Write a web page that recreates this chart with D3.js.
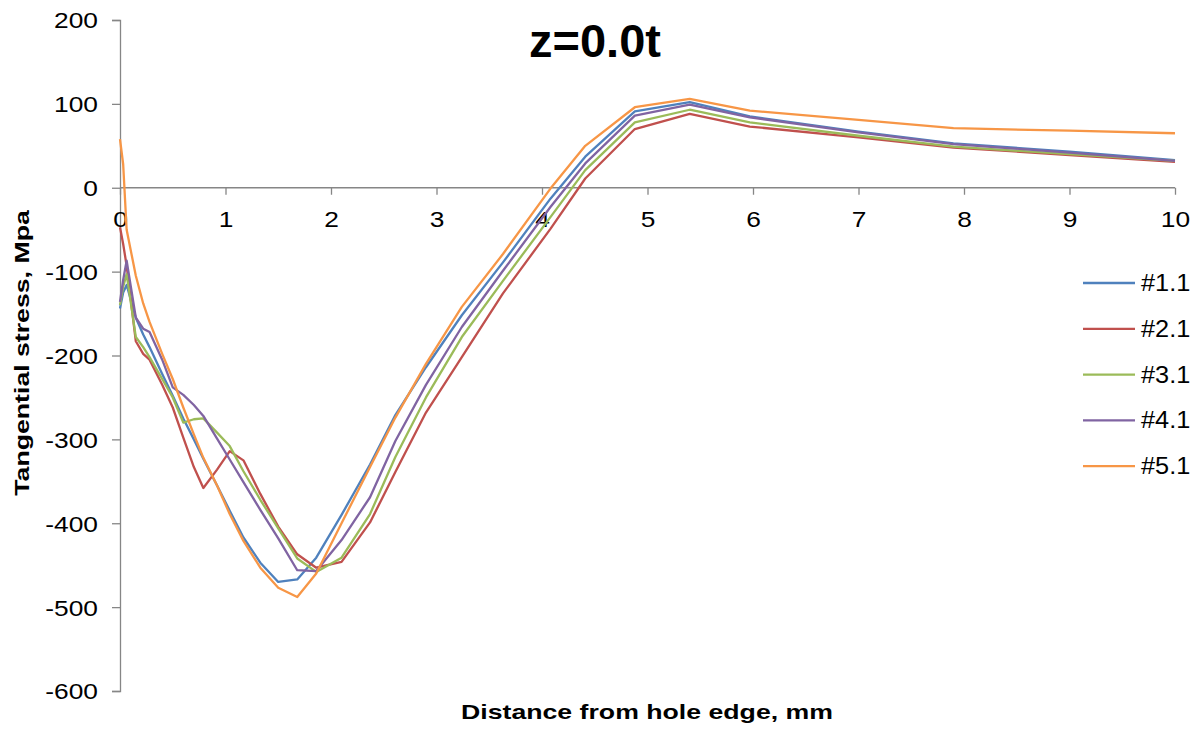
<!DOCTYPE html>
<html>
<head>
<meta charset="utf-8">
<script src="https://cdn.jsdelivr.net/npm/d3@7"></script>
<style>
  html, body { margin: 0; padding: 0; background: #fff; }
  svg text { font-family: "Liberation Sans", Arial, sans-serif; fill: #000; }
</style>
</head>
<body>
<svg id="chart" width="1200" height="730"></svg>
<script>
// ---- data ----
const xValues = [0, 0.03, 0.063, 0.15, 0.22, 0.28, 0.4, 0.5, 0.6, 0.7, 0.79, 0.92, 1.04, 1.17, 1.33, 1.5, 1.68, 1.86, 2.1, 2.37, 2.61, 2.9, 3.24, 3.63, 4.08, 4.41, 4.88, 5.40, 5.97, 7.0, 7.9, 9.0, 10];
const seriesNames = ["#1.1", "#2.1", "#3.1", "#4.1", "#5.1"];
const s1 = [-144, -125, -116, -155, -175, -190, -222, -248, -275, -300, -323, -355, -385, -417, -447, -470, -467, -441, -390, -330, -271, -214, -152, -89, -13, 37, 91, 102, 85, 67, 53, 43, 33];
const s2 = [-47, -67, -93, -183, -198, -205, -235, -262, -298, -333, -358, -336, -314, -325, -365, -404, -437, -453, -446, -399, -339, -268, -202, -126, -49, 11, 70, 88, 73, 60, 48, 39, 31];
const s3 = [-140, -118, -103, -178, -190, -202, -228, -250, -280, -276, -275, -292, -308, -338, -372, -406, -442, -458, -441, -389, -321, -250, -178, -111, -35, 21, 78, 93, 78, 62, 49, 40, 32];
const s4 = [-136, -110, -87, -155, -168, -172, -205, -238, -247, -259, -272, -299, -324, -351, -384, -418, -456, -457, -420, -369, -302, -235, -166, -99, -23, 29, 86, 99, 84, 66, 52, 42, 32];
const s5 = [58, 28, -50, -105, -138, -160, -198, -228, -262, -294, -322, -355, -389, -421, -453, -477, -488, -460, -400, -333, -274, -210, -142, -79, -1, 50, 96, 106, 92, 81, 71, 68, 65];
const seriesValues = [s1, s2, s3, s4, s5];
const colors = ["#4F81BD", "#C0504D", "#9BBB59", "#8064A2", "#F79646"];
const xTicks = [0, 1, 2, 3, 4, 5, 6, 7, 8, 9, 10];
const yTicks = [-600, -500, -400, -300, -200, -100, 0, 100, 200];
const titleText = "z=0.0t";
const xTitle = "Distance from hole edge, mm";
const yTitle = "Tangential stress, Mpa";

// ---- layout ----
const svg = d3.select("#chart");
const plotLeft = 120, plotRight = 1175, plotTop = 20, plotBottom = 691;
const x = d3.scaleLinear().domain([0, 10]).range([plotLeft, plotRight]);
const y = d3.scaleLinear().domain([-600, 200]).range([plotBottom, plotTop]);
const axisColor = "#868686";

// widen glyphs horizontally (reference text is drawn wider than Arial)
function stretch(sel, k) {
  sel.each(function () {
    const w = this.getComputedTextLength();
    d3.select(this).attr("textLength", w * k).attr("lengthAdjust", "spacingAndGlyphs");
  });
}

// y axis
const yAxis = d3.axisLeft(y).tickValues(yTicks).tickSize(8).tickPadding(14).tickFormat(d => String(d));
const gy = svg.append("g").attr("transform", `translate(${plotLeft},0)`).call(yAxis);
gy.select(".domain").attr("stroke", axisColor).attr("stroke-width", 1.3);
gy.selectAll(".tick line").attr("stroke", axisColor).attr("stroke-width", 1.3);
gy.selectAll(".tick text").attr("font-size", 22.5).attr("font-family", "Liberation Sans, Arial, sans-serif").attr("fill", "#000").attr("dy", "0.35em");
stretch(gy.selectAll(".tick text"), 1.17);

// x axis at y=0
const xAxis = d3.axisBottom(x).tickValues(xTicks).tickSize(7).tickPadding(16).tickFormat(d => String(d));
const gx = svg.append("g").attr("transform", `translate(0,${y(0)})`).call(xAxis);
gx.select(".domain").attr("stroke", axisColor).attr("stroke-width", 1.3).attr("d", `M${plotLeft},0H${plotRight}`);
gx.selectAll(".tick line").attr("stroke", axisColor).attr("stroke-width", 1.3);
gx.selectAll(".tick text").attr("font-size", 22.5).attr("font-family", "Liberation Sans, Arial, sans-serif").attr("fill", "#000");
stretch(gx.selectAll(".tick text"), 1.17);

// lines
const line = d3.line().x((d, i) => x(xValues[i])).y(d => y(d));
svg.append("g").selectAll("path").data(seriesValues).join("path")
  .attr("d", d => line(d))
  .attr("fill", "none")
  .attr("stroke", (d, i) => colors[i])
  .attr("stroke-width", 2.3)
  .attr("stroke-linejoin", "round");

// title
svg.append("text").attr("x", 595).attr("y", 57).attr("text-anchor", "middle")
  .attr("font-size", 47).attr("font-weight", "bold").text(titleText);

// axis titles
const xt = svg.append("text").attr("x", 647).attr("y", 719).attr("text-anchor", "middle")
  .attr("font-size", 21).attr("font-weight", "bold").text(xTitle);
stretch(xt, 1.27);
const yt = svg.append("text").attr("transform", "translate(29,353) rotate(-90)").attr("text-anchor", "middle")
  .attr("font-size", 21).attr("font-weight", "bold").text(yTitle);
stretch(yt, 1.27);

// legend
const lg = svg.append("g");
seriesNames.forEach((name, i) => {
  const yy = 283 + i * 45.8;
  lg.append("line").attr("x1", 1083).attr("x2", 1135).attr("y1", yy).attr("y2", yy)
    .attr("stroke", colors[i]).attr("stroke-width", 2.3);
  const t = lg.append("text").attr("x", 1141).attr("y", yy).attr("dy", "0.35em")
    .attr("font-size", 23).text(name);
  stretch(t, 1.1);
});
</script>
</body>
</html>
